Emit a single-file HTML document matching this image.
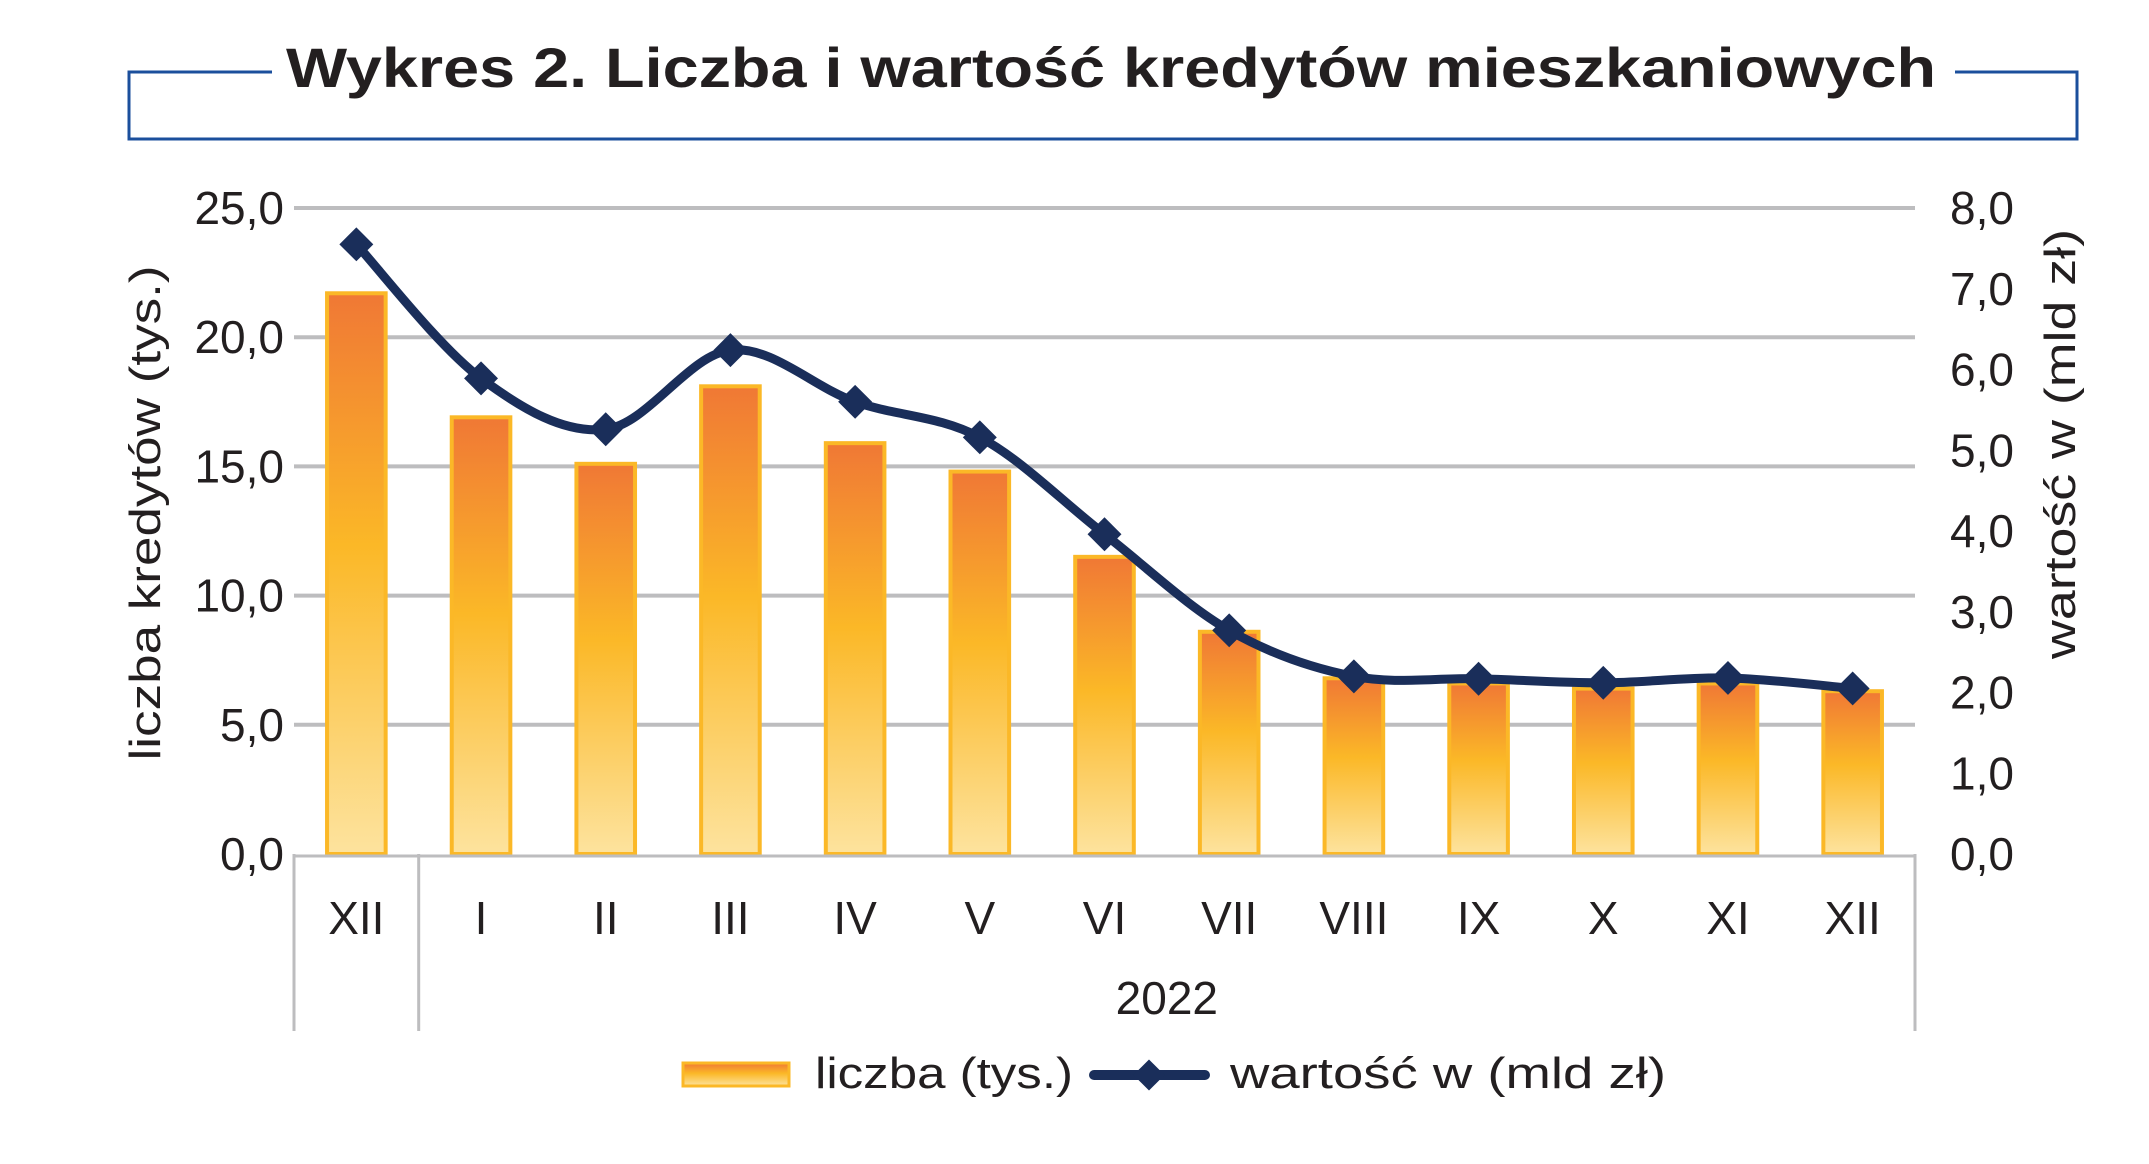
<!DOCTYPE html>
<html><head><meta charset="utf-8">
<style>
html,body{margin:0;padding:0;background:#fff;}
body{width:2149px;height:1159px;overflow:hidden;font-family:"Liberation Sans",sans-serif;}
</style></head>
<body>
<svg id="chart" width="2149" height="1159" viewBox="0 0 2149 1159" xmlns="http://www.w3.org/2000/svg" font-family="Liberation Sans, sans-serif">
<defs>
<linearGradient id="barGrad" x1="0" y1="0" x2="0" y2="1">
<stop offset="0" stop-color="#f07835"/>
<stop offset="0.45" stop-color="#fbb827"/>
<stop offset="1" stop-color="#fde39e"/>
</linearGradient>
</defs>
<g>
<path d="M272 72 H129 V139 H2077 V72 H1955" fill="none" stroke="#1b4f9c" stroke-width="3"/>
<text x="286" y="87" font-size="56" font-weight="bold" fill="#231f20" textLength="1650" lengthAdjust="spacingAndGlyphs">Wykres 2. Liczba i wartość  kredytów mieszkaniowych</text>
</g>
<g id="grid"></g>
<g id="bars"></g>
<g id="line"></g>
<g id="axes"></g>
<text transform="translate(160,513) rotate(-90)" font-size="44" fill="#231f20" text-anchor="middle" textLength="495" lengthAdjust="spacingAndGlyphs">liczba kredytów (tys.)</text>
<text transform="translate(2075,444) rotate(-90)" font-size="44" fill="#231f20" text-anchor="middle" textLength="430" lengthAdjust="spacingAndGlyphs">wartość w (mld zł)</text>
<g>
<rect x="683" y="1063" width="106" height="23" fill="url(#barGrad)" stroke="#fbb827" stroke-width="3"/>
<text x="815" y="1088" font-size="44" fill="#231f20" textLength="258" lengthAdjust="spacingAndGlyphs">liczba (tys.)</text>
<line x1="1094" y1="1075" x2="1205" y2="1075" stroke="#1a2e5a" stroke-width="10" stroke-linecap="round"/>
<rect x="1138" y="1064" width="22" height="22" fill="#1a2e5a" transform="rotate(45 1149 1075)"/>
<text x="1230" y="1088" font-size="44" fill="#231f20" textLength="436" lengthAdjust="spacingAndGlyphs">wartość w (mld zł)</text>
</g>
</svg>
<script>
const categories = ["XII","I","II","III","IV","V","VI","VII","VIII","IX","X","XI","XII"];
const countValues = [21.7,16.9,15.1,18.1,15.9,14.8,11.5,8.6,6.8,6.6,6.4,6.6,6.3];
const valueValues = [7.55,5.89,5.26,6.24,5.60,5.16,3.96,2.77,2.20,2.17,2.12,2.18,2.05];
const leftTicks = [0,5,10,15,20,25];
const leftTickLabels = ["0,0","5,0","10,0","15,0","20,0","25,0"];
const rightTicks = [0,1,2,3,4,5,6,7,8];
const rightTickLabels = ["0,0","1,0","2,0","3,0","4,0","5,0","6,0","7,0","8,0"];
const yearLabel = "2022";

const NS="http://www.w3.org/2000/svg";
const X0=294,X1=1915,Y0=854,YT=208;
const band=(X1-X0)/categories.length;
const xc=i=>X0+band*(i+0.5);
const yL=v=>Y0-(v/25)*(Y0-YT);
const yR=v=>Y0-(v/8)*(Y0-YT);
function mk(tag,attrs,parent){const e=document.createElementNS(NS,tag);for(const k in attrs)e.setAttribute(k,attrs[k]);parent.appendChild(e);return e;}
const grid=document.getElementById('grid'),bars=document.getElementById('bars'),line=document.getElementById('line'),axes=document.getElementById('axes');
leftTicks.forEach((t,i)=>{
  if(t>0){const g=mk('line',{x1:X0,x2:X1,y1:yL(t),y2:yL(t),stroke:'#bdbdbf','stroke-width':4},grid);
  
  }
  const tx=mk('text',{x:284,y:yL(t)+16,'font-size':46,fill:'#231f20','text-anchor':'end'},axes);
  tx.textContent=leftTickLabels[i];
  
  
});
rightTicks.forEach((t,i)=>{
  const tx=mk('text',{x:1950,y:yR(t)+16,'font-size':46,fill:'#231f20'},axes);
  tx.textContent=rightTickLabels[i];
  
  
});
const bw=band*0.47;
countValues.forEach((v,i)=>{
  const r=mk('rect',{x:xc(i)-bw/2,y:yL(v),width:bw,height:Y0-yL(v),fill:'url(#barGrad)',stroke:'#fbb827','stroke-width':4},bars);
  
  
});
const ax=mk('path',{d:`M${X0} ${Y0+2} H${X1} M${X0} ${Y0} V1031 M${X0+band} ${Y0} V1031 M${X1} ${Y0} V1031`,stroke:'#bdbdbf','stroke-width':3,fill:'none'},axes);


categories.forEach((c,i)=>{
  const t=mk('text',{x:xc(i),y:934,'font-size':46,fill:'#231f20','text-anchor':'middle'},axes);
  t.textContent=c;
  
  
});
const yl=mk('text',{x:(X0+band+X1)/2,y:1014,'font-size':46,fill:'#231f20','text-anchor':'middle'},axes);
yl.textContent=yearLabel;


const pts=valueValues.map((v,i)=>[xc(i),yR(v)]);
let d=`M${pts[0][0]} ${pts[0][1]}`;
for(let i=0;i<pts.length-1;i++){
  const p0=pts[Math.max(0,i-1)],p1=pts[i],p2=pts[i+1],p3=pts[Math.min(pts.length-1,i+2)];
  const c1=[p1[0]+(p2[0]-p0[0])/6,p1[1]+(p2[1]-p0[1])/6];
  const c2=[p2[0]-(p3[0]-p1[0])/6,p2[1]-(p3[1]-p1[1])/6];
  d+=` C${c1[0]} ${c1[1]} ${c2[0]} ${c2[1]} ${p2[0]} ${p2[1]}`;
}
const pl=mk('path',{d:d,fill:'none',stroke:'#1a2e5a','stroke-width':9,'stroke-linejoin':'round'},line);


pts.forEach((p,i)=>{
  const m=mk('rect',{x:p[0]-12,y:p[1]-12,width:24,height:24,fill:'#1a2e5a',transform:`rotate(45 ${p[0]} ${p[1]})`},line);
  
  
});
</script>
</body></html>
